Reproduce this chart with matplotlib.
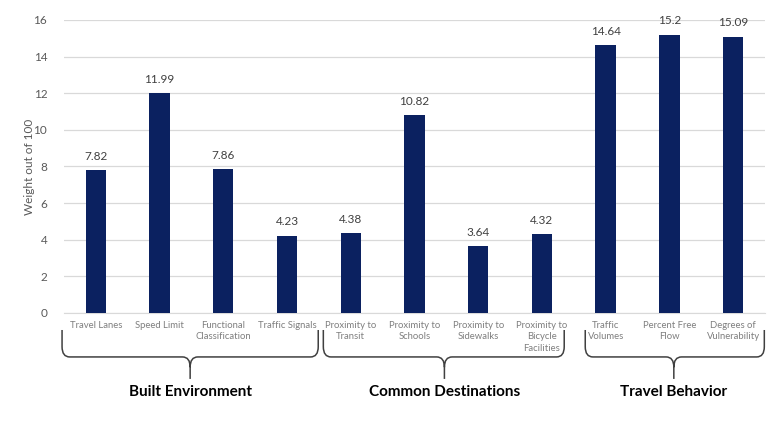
import matplotlib.pyplot as plt
from matplotlib.path import Path
from matplotlib.patches import PathPatch
from matplotlib.transforms import blended_transform_factory

plt.rcParams['font.family'] = ['Lato', 'DejaVu Sans']

categories = ["Travel Lanes", "Speed Limit", "Functional\nClassification", "Traffic Signals",
              "Proximity to\nTransit", "Proximity to\nSchools", "Proximity to\nSidewalks",
              "Proximity to\nBicycle\nFacilities", "Traffic\nVolumes", "Percent Free\nFlow",
              "Degrees of\nVulnerability"]
weights = [7.82, 11.99, 7.86, 4.23, 4.38, 10.82, 3.64, 4.32, 14.64, 15.2, 15.09]
value_labels = ["7.82", "11.99", "7.86", "4.23", "4.38", "10.82", "3.64", "4.32", "14.64", "15.2", "15.09"]

groups = ["Built Environment", "Common Destinations", "Travel Behavior"]
# brace spans (data x): left edge, right edge, tip
group_spans = [(-0.53, 3.49, 1.48), (3.57, 7.35, 5.47), (7.68, 10.49, 9.07)]

bar_color = "#0b2160"
text_gray = "#595959"

fig = plt.figure(figsize=(7.82, 4.28), dpi=100)
ax = fig.add_axes([0.0818, 0.2687, 0.8964, 0.6846])

x = range(len(categories))
ax.bar(x, weights, width=0.32, color=bar_color, zorder=3)
for xi, v, lab in zip(x, weights, value_labels):
    ax.text(xi, v + 0.45, lab, ha="center", va="bottom", fontsize=8.5, color="#404040")

ax.set_xlim(-0.5, len(categories) - 0.5)
ax.set_ylim(0, 16)
ax.set_yticks(range(0, 17, 2))
ax.grid(axis="y", color="#d9d9d9", linewidth=0.9, zorder=0)
for s in ["top", "right", "left"]:
    ax.spines[s].set_visible(False)
ax.spines["bottom"].set_color("#d9d9d9")
ax.tick_params(axis="both", length=0, colors=text_gray)
ax.tick_params(axis="y", labelsize=8.5, pad=12)
ax.set_xticks(list(x))
ax.set_xticklabels(categories, fontsize=6.8, color="#7f7f7f", linespacing=1.3)
ax.tick_params(axis="x", pad=6)
ax.set_ylabel("Weight out of 100", fontsize=8.5, color=text_gray, labelpad=-1)

# curly braces below the category labels
tr = blended_transform_factory(ax.transData, ax.transAxes)
ytop, yh, ytip = -0.058, -0.150, -0.225
r = 0.035
dx = 0.12
for name, (x0, x1, xc) in zip(groups, group_spans):
    verts = [(x0, ytop), (x0, yh + r), (x0, yh), (x0 + dx, yh),
             (xc - dx, yh), (xc, yh), (xc, yh - r), (xc, ytip),
             (xc, yh - r), (xc, yh), (xc + dx, yh),
             (x1 - dx, yh), (x1, yh), (x1, yh + r), (x1, ytop)]
    codes = [Path.MOVETO, Path.LINETO, Path.CURVE3, Path.CURVE3,
             Path.LINETO, Path.CURVE3, Path.CURVE3, Path.LINETO,
             Path.MOVETO, Path.CURVE3, Path.CURVE3,
             Path.LINETO, Path.CURVE3, Path.CURVE3, Path.LINETO]
    ax.add_patch(PathPatch(Path(verts, codes), transform=tr, fill=False,
                           edgecolor="#404040", linewidth=1.1, clip_on=False))
    ax.text(xc, -0.27, name, transform=tr, ha="center", va="center",
            fontsize=11, fontweight="bold", color="black")

fig.savefig("out.png", dpi=100)
